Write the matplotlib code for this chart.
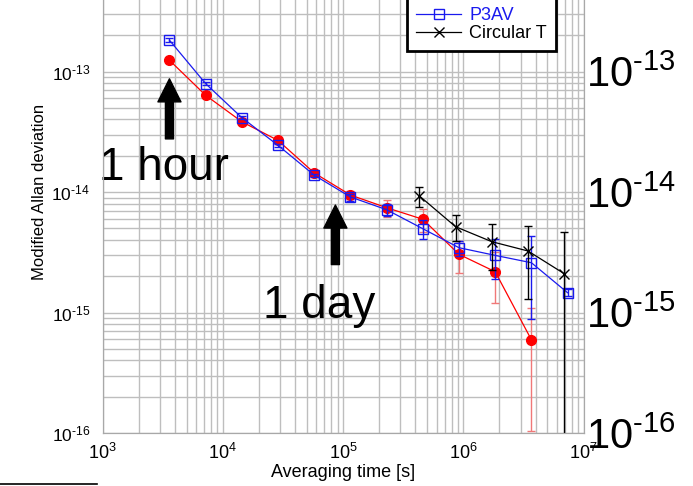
import matplotlib
matplotlib.use('Agg')
import matplotlib.pyplot as plt
import matplotlib.ticker as tk
from matplotlib.lines import Line2D
from pylab import rcParams
import numpy as np

rcParams['font.family'] = 'Liberation Sans'
rcParams['mathtext.fontset'] = 'custom'
rcParams['mathtext.rm'] = 'Liberation Sans'
rcParams['mathtext.it'] = 'Liberation Sans:italic'
rcParams['font.size'] = 13

# averaging times [s]
tau = [3600, 7200, 14400, 28800, 57600, 115200, 230400, 460800,
       921600, 1843200, 3686400, 7372800]
tau_ct = [432000, 864000, 1728000, 3456000, 6912000]

# modified Allan deviation
red = [1.24e-13, 6.35e-14, 3.83e-14, 2.68e-14, 1.44e-14, 9.44e-15,
       7.41e-15, 5.94e-15, 3.04e-15, 2.18e-15, 5.94e-16]
red_err = [1.5e-15, 1.0e-15, 8e-16, 6e-16, 5e-16, 7e-16,
           1.2e-15, 1.3e-15, 9e-16, 9.7e-16, 4.9e-16]

p3av = [1.82e-13, 7.93e-14, 4.14e-14, 2.44e-14, 1.38e-14, 9.1e-15,
        7.13e-15, 4.96e-15, 3.45e-15, 2.98e-15, 2.59e-15, 1.46e-15]
p3av_err = [6e-15, 2.5e-15, 1.2e-15, 6e-16, 4e-16, 6e-16,
            8e-16, 9e-16, 5e-16, 1.1e-15, 1.7e-15, 1e-16]

circt = [9.27e-15, 5.15e-15, 3.87e-15, 3.24e-15, 2.10e-15]
circt_err = [1.8e-15, 1.25e-15, 1.6e-15, 1.95e-15, 2.56e-15]

legend_labels = ['P3AV', 'Circular T']
decades = [1e-16, 1e-15, 1e-14, 1e-13, 1e-12]


def hyphen_exp(v, pos):
    # 10^-13 style label with a plain hyphen like the original
    e = int(round(np.log10(v)))
    return r'$10^{\text{%d}}$' % e


fig = plt.figure(figsize=(6.93, 4.86), dpi=100)
# axes run above the top of the picture (the original is cropped there)
ax = fig.add_axes([0.148, 0.109, 0.694, 0.9918])

gridc = '#bebebe'
ax.set_xscale('log')
ax.set_yscale('log')
ax.set_xlim(1e3, 1e7)
ax.set_ylim(1e-16, 1e-12)
ax.grid(True, which='both', color=gridc, linewidth=1.0)
ax.set_axisbelow(True)
for sp in ax.spines.values():
    sp.set_color('#a8a8a8')
ax.tick_params(which='both', length=0)
ax.tick_params(axis='y', pad=9, labelsize=12.5)
ax.tick_params(axis='x', pad=7, labelsize=13)
ax.xaxis.set_minor_formatter(tk.NullFormatter())
ax.yaxis.set_minor_formatter(tk.NullFormatter())
ax.set_yticks(decades)
ax.yaxis.set_major_formatter(tk.FuncFormatter(hyphen_exp))

ax.errorbar(tau[:len(red)], red, yerr=red_err, color='red', ecolor='#f07878',
            marker='o', ms=7, lw=0.9, elinewidth=1, capsize=3, zorder=3)
ax.errorbar(tau, p3av, yerr=p3av_err, color='#1a1aee', marker='s', ms=6.5,
            mfc='none', mew=1, lw=0.9, elinewidth=1, capsize=3, zorder=4)
ax.errorbar(tau_ct, circt, yerr=circt_err, color='black', marker='x', ms=7,
            mew=1, lw=0.9, elinewidth=1, capsize=3, zorder=5)

ax.set_xlabel('Averaging time [s]', labelpad=1)
ax.set_ylabel('Modified Allan deviation', fontsize=12, labelpad=3)

# 1 hour / 1 day markers
arrow = dict(arrowstyle='simple,head_length=1.66,head_width=1.66,tail_width=0.58',
             mutation_scale=10, color='black', shrinkA=0, shrinkB=0)
ax.annotate('', xy=(3600, 8.7e-14), xytext=(3600, 2.76e-14), arrowprops=arrow)
ax.annotate('', xy=(86400, 7.8e-15), xytext=(86400, 2.5e-15), arrowprops=arrow)
ax.text(940, 1.26e-14, '1 hour', fontsize=33, va='baseline', ha='left')
ax.text(21500, 9.06e-16, '1 day', fontsize=33, va='baseline', ha='left')

handles = [Line2D([], [], color='#1a1aee', marker='s', mfc='none', ms=6.5, lw=0.9),
           Line2D([], [], color='black', marker='x', ms=7, lw=0.9)]
leg = ax.legend(handles, legend_labels, loc='lower left',
                bbox_to_anchor=(407 / 693, 1 - 51 / 486),
                bbox_transform=fig.transFigure, borderaxespad=0,
                fancybox=False, edgecolor='black', framealpha=1,
                handlelength=2.5, handletextpad=0.45, borderpad=0.5,
                labelspacing=0.05, fontsize=13)
leg.get_frame().set_linewidth(2)
leg.get_texts()[0].set_color('#1a1aee')
leg.set_zorder(10)

# big duplicate decade labels on the right
ax2 = ax.twinx()
ax2.set_yscale('log')
ax2.set_ylim(1e-16, 1e-12)
ax2.set_yticks(decades)
ax2.yaxis.set_major_formatter(tk.FuncFormatter(hyphen_exp))
ax2.yaxis.set_minor_formatter(tk.NullFormatter())
ax2.tick_params(which='both', length=0, labelsize=30, pad=2)
for sp in ax2.spines.values():
    sp.set_color('#a8a8a8')

fig.add_artist(Line2D([0, 97 / 693], [2 / 486, 2 / 486], color='black', lw=1.2))

fig.savefig('out.png', dpi=100)
